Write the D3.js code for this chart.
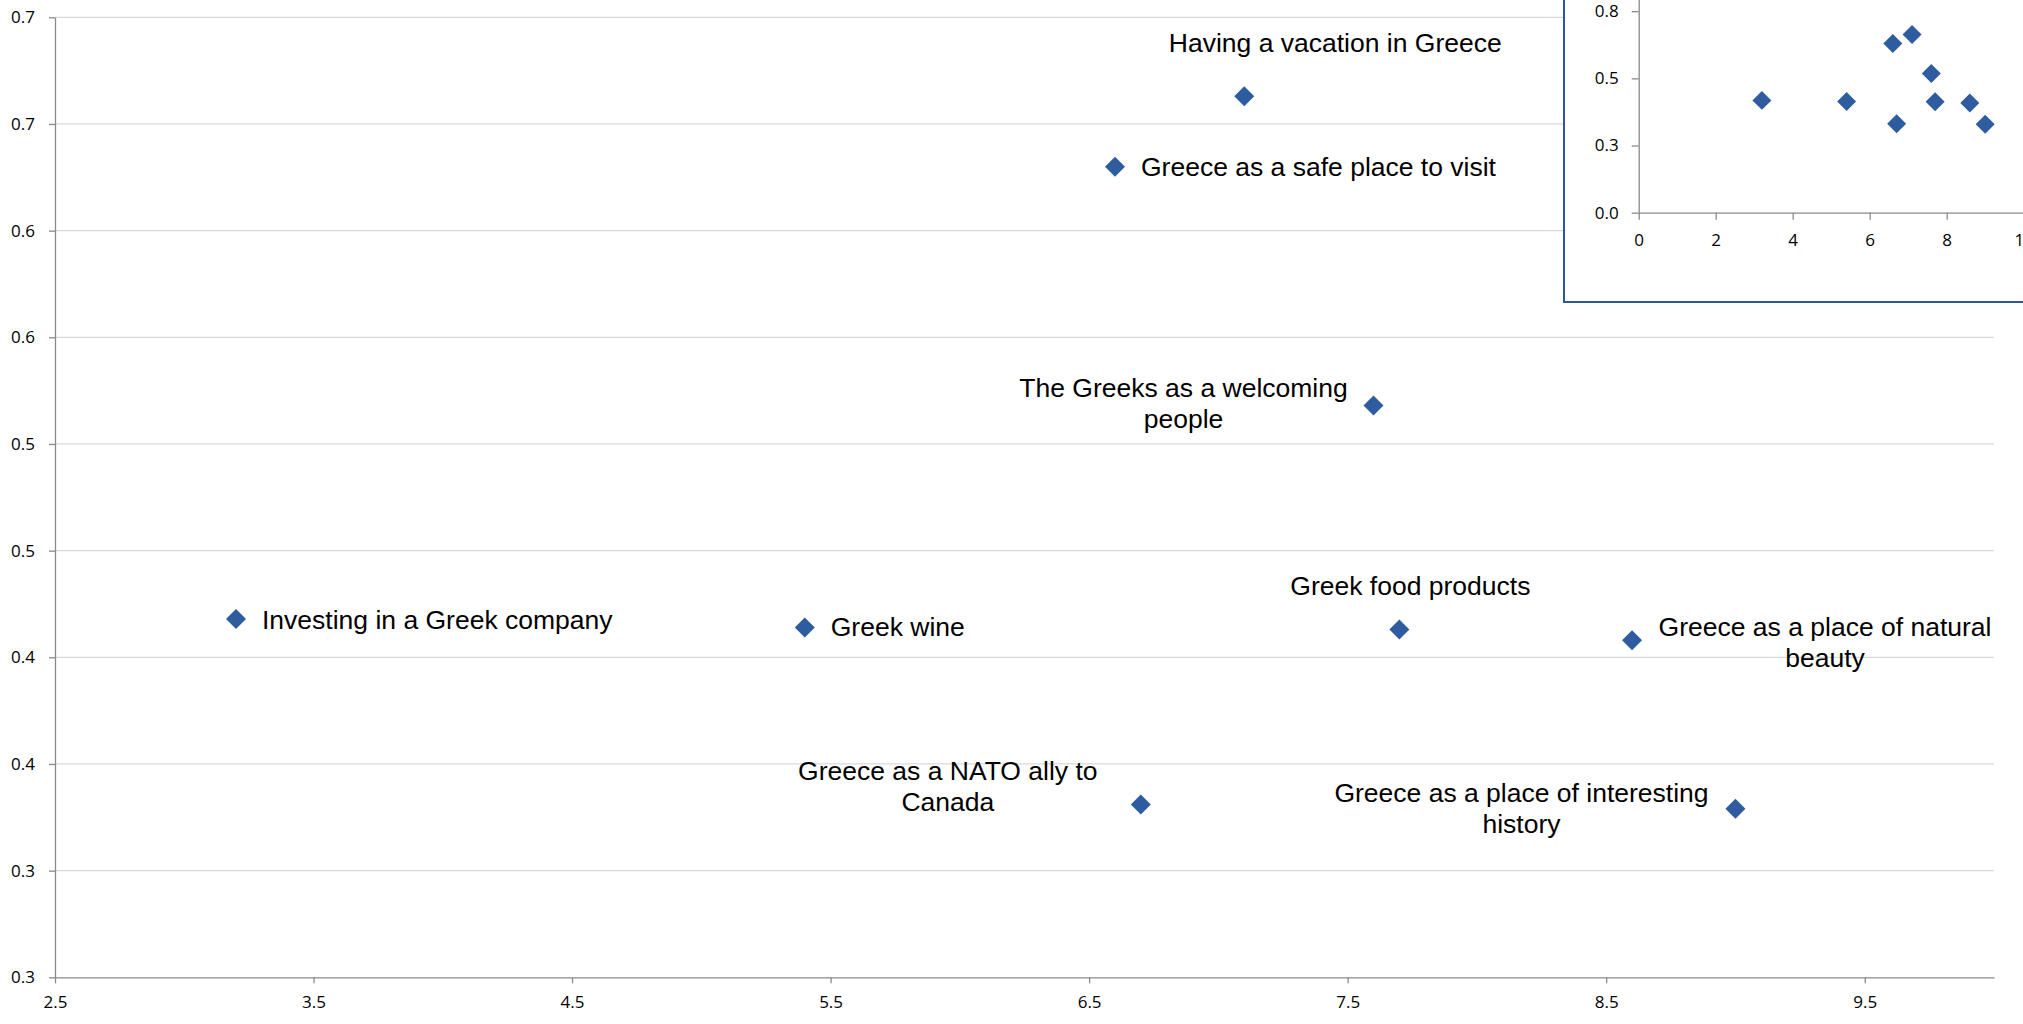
<!DOCTYPE html>
<html>
<head>
<meta charset="utf-8">
<script src="https://cdn.jsdelivr.net/npm/d3@7"></script>
<style>
  html, body { margin: 0; padding: 0; background: #ffffff; }
  svg { display: block; }
</style>
</head>
<body>
<svg id="chart" width="2023" height="1024"></svg>
<script>
// Perception items plotted as (importance, favourability)
const items = [
  "Having a vacation in Greece",
  "Greece as a safe place to visit",
  "The Greeks as a welcoming people",
  "Investing in a Greek company",
  "Greek wine",
  "Greek food products",
  "Greece as a place of natural beauty",
  "Greece as a NATO ally to Canada",
  "Greece as a place of interesting history"
];
const xValues = [7.1, 6.6, 7.6, 3.2, 5.4, 7.7, 8.6, 6.7, 9.0];
const yValues = [0.663, 0.630, 0.518, 0.418, 0.414, 0.413, 0.408, 0.331, 0.329];

// Main axis ticks and their printed labels
const xTickValues = [2.5, 3.5, 4.5, 5.5, 6.5, 7.5, 8.5, 9.5];
const xTickLabels = ["2.5", "3.5", "4.5", "5.5", "6.5", "7.5", "8.5", "9.5"];
const yTickValues = [0.25, 0.30, 0.35, 0.40, 0.45, 0.50, 0.55, 0.60, 0.65, 0.70];
const yTickLabels = ["0.3", "0.3", "0.4", "0.4", "0.5", "0.5", "0.6", "0.6", "0.7", "0.7"];

// Overview panel ticks
const insetXTickValues = [0, 2, 4, 6, 8, 10];
const insetXTickLabels = ["0", "2", "4", "6", "8", "10"];
const insetYTickValues = [0, 0.25, 0.5, 0.75];
const insetYTickLabels = ["0.0", "0.3", "0.5", "0.8"];

// Label placement: words on first line, anchor, offsets from the marker (px)
const labelLayout = [
  { firstLineWords: 99, anchor: "middle", dx: 91,   dy: -44 },
  { firstLineWords: 99, anchor: "start",  dx: 26,   dy: 9 },
  { firstLineWords: 5,  anchor: "middle", dx: -190, dy: -9 },
  { firstLineWords: 99, anchor: "start",  dx: 26,   dy: 10 },
  { firstLineWords: 99, anchor: "start",  dx: 26,   dy: 8.5 },
  { firstLineWords: 99, anchor: "middle", dx: 11,   dy: -34.5 },
  { firstLineWords: 6,  anchor: "middle", dx: 193,  dy: -4 },
  { firstLineWords: 6,  anchor: "middle", dx: -193, dy: -24.5 },
  { firstLineWords: 6,  anchor: "middle", dx: -214, dy: -6.5 }
];

const points = items.map((name, i) => ({ name, x: xValues[i], y: yValues[i], layout: labelLayout[i] }));

const svg = d3.select("#chart");
const markerColor = "#2E5C9F";
const axisColor = "#8A8A8A";
const gridColor = "#D9D9D9";
const tickFont = "'Open Sans', 'Noto Sans', sans-serif";
const labelFont = "'Liberation Sans', Arial, sans-serif";

const plot = { left: 55, right: 1994, top: 17.3, bottom: 977.3 };
const x = d3.scaleLinear().domain([2.5, 10]).range([plot.left, plot.right]);
const y = d3.scaleLinear().domain([0.25, 0.70]).range([plot.bottom, plot.top]);

// Horizontal gridlines
svg.append("g")
  .selectAll("line")
  .data(yTickValues.slice(1))
  .join("line")
  .attr("x1", plot.left).attr("x2", plot.right)
  .attr("y1", d => y(d)).attr("y2", d => y(d))
  .attr("stroke", gridColor).attr("stroke-width", 1.3);

function styleAxis(g) {
  g.select(".domain").attr("stroke", axisColor).attr("stroke-width", 1.3);
  g.selectAll(".tick line").attr("stroke", axisColor).attr("stroke-width", 1.3);
  g.selectAll(".tick text")
    .attr("fill", "#000")
    .style("font-family", tickFont)
    .style("font-size", "17px");
}

svg.append("g")
  .attr("transform", `translate(0,${plot.bottom})`)
  .call(d3.axisBottom(x).tickValues(xTickValues)
    .tickFormat((d, i) => xTickLabels[i]).tickSize(6).tickPadding(13).tickSizeOuter(0))
  .call(styleAxis);

svg.append("g")
  .attr("transform", `translate(${plot.left},0)`)
  .call(d3.axisLeft(y).tickValues(yTickValues)
    .tickFormat((d, i) => yTickLabels[i]).tickSize(6).tickPadding(14).tickSizeOuter(0))
  .call(styleAxis);

const diamond = d3.symbol().type(d3.symbolSquare).size(200);

// Markers
svg.append("g")
  .selectAll("path")
  .data(points)
  .join("path")
  .attr("d", diamond)
  .attr("transform", d => `translate(${x(d.x)},${y(d.y)}) rotate(45)`)
  .attr("fill", markerColor);

// Data labels
const labels = svg.append("g")
  .style("font-family", labelFont)
  .style("font-size", "26.5px")
  .attr("fill", "#000");

labels.selectAll("text")
  .data(points)
  .join("text")
  .attr("text-anchor", d => d.layout.anchor)
  .attr("x", d => x(d.x) + d.layout.dx)
  .attr("y", d => y(d.y) + d.layout.dy)
  .each(function (d) {
    const words = d.name.split(" ");
    const n = d.layout.firstLineWords;
    const lines = [words.slice(0, n).join(" ")];
    if (words.length > n) lines.push(words.slice(n).join(" "));
    const t = d3.select(this);
    lines.forEach((line, i) => {
      t.append("tspan")
        .attr("x", x(d.x) + d.layout.dx)
        .attr("dy", i === 0 ? 0 : 31)
        .text(line);
    });
  });

// Overview panel showing the full 0-based scale
const inset = { left: 1564, top: -10, right: 2030, bottom: 302 };
svg.append("defs").append("clipPath").attr("id", "insetClip")
  .append("rect")
  .attr("x", inset.left).attr("y", inset.top)
  .attr("width", inset.right - inset.left).attr("height", inset.bottom - inset.top);

svg.append("rect")
  .attr("x", inset.left).attr("y", inset.top)
  .attr("width", inset.right - inset.left).attr("height", inset.bottom - inset.top)
  .attr("fill", "#fff");

const ig = svg.append("g").attr("clip-path", "url(#insetClip)");
const ix = d3.scaleLinear().domain([0, 10]).range([1638.7, 2023.7]);
const iy = d3.scaleLinear().domain([0, 1]).range([212.7, -56]);

ig.append("g")
  .attr("transform", `translate(0,${iy(0)})`)
  .call(d3.axisBottom(ix).tickValues(insetXTickValues)
    .tickFormat((d, i) => insetXTickLabels[i]).tickSize(7).tickPadding(14).tickSizeOuter(0))
  .call(styleAxis);

ig.append("g")
  .attr("transform", `translate(${ix(0)},0)`)
  .call(d3.axisLeft(iy).tickValues(insetYTickValues)
    .tickFormat((d, i) => insetYTickLabels[i]).tickSize(7).tickPadding(13).tickSizeOuter(0))
  .call(styleAxis);

ig.append("g")
  .selectAll("path")
  .data(points)
  .join("path")
  .attr("d", d3.symbol().type(d3.symbolSquare).size(180))
  .attr("transform", d => `translate(${ix(d.x)},${iy(d.y)}) rotate(45)`)
  .attr("fill", markerColor);

svg.append("rect")
  .attr("x", inset.left).attr("y", inset.top)
  .attr("width", inset.right - inset.left).attr("height", inset.bottom - inset.top)
  .attr("fill", "none")
  .attr("stroke", "#2F5597")
  .attr("stroke-width", 2);
</script>
</body>
</html>
